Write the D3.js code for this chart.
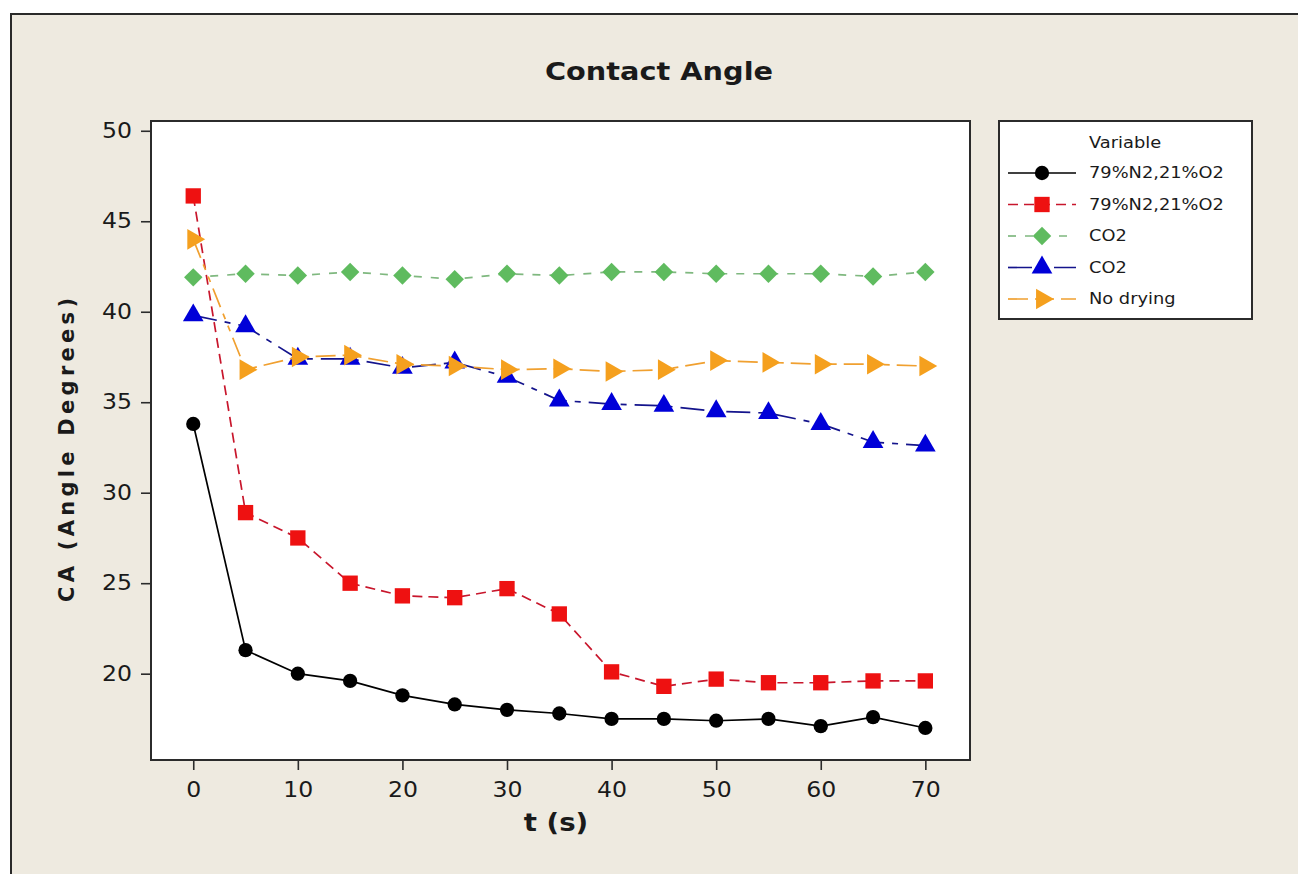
<!DOCTYPE html>
<html>
<head>
<meta charset="utf-8">
<script src="https://cdn.jsdelivr.net/npm/d3@7/dist/d3.min.js"></script>
<style>
  html, body { margin: 0; padding: 0; background: #ffffff; }
  svg { display: block; }
  text { font-family: "DejaVu Sans", Verdana, sans-serif; fill: #1a1a1a; }
</style>
</head>
<body>
<svg id="chart" width="1298" height="874"></svg>
<script>
// Contact angle measurements over time
const times = [0, 5, 10, 15, 20, 25, 30, 35, 40, 45, 50, 55, 60, 65, 70];
const airSolid  = [33.8, 21.3, 20.0, 19.6, 18.8, 18.3, 18.0, 17.8, 17.5, 17.5, 17.4, 17.5, 17.1, 17.6, 17.0];
const airDashed = [46.4, 28.9, 27.5, 25.0, 24.3, 24.2, 24.7, 23.3, 20.1, 19.3, 19.7, 19.5, 19.5, 19.6, 19.6];
const co2Green  = [41.9, 42.1, 42.0, 42.2, 42.0, 41.8, 42.1, 42.0, 42.2, 42.2, 42.1, 42.1, 42.1, 41.95, 42.2];
const co2Blue   = [39.8, 39.2, 37.4, 37.4, 36.9, 37.2, 36.4, 35.1, 34.9, 34.8, 34.5, 34.4, 33.8, 32.8, 32.6];
const noDrying  = [44.0, 36.8, 37.5, 37.6, 37.1, 37.0, 36.8, 36.85, 36.7, 36.8, 37.3, 37.2, 37.1, 37.1, 37.0];

const seriesLabels = ["79%N2,21%O2", "79%N2,21%O2", "CO2", "CO2", "No drying"];
const xTicks = [0, 10, 20, 30, 40, 50, 60, 70];
const yTicks = [20, 25, 30, 35, 40, 45, 50];

const titleText = "Contact Angle";
const xTitle = "t (s)";
const yTitle = "CA (Angle Degrees)";
const legendTitle = "Variable";

const seriesValues = [airSolid, airDashed, co2Green, co2Blue, noDrying];
const styles = [
  { line: "#000000", fill: "#000000", dash: null,                 symbol: "circle" },
  { line: "#c8162c", fill: "#ee1111", dash: "10,6",               symbol: "square" },
  { line: "#7fb87f", fill: "#5fbb5f", dash: "8,9",                symbol: "diamond" },
  { line: "#14148c", fill: "#0000d8", dash: "24,8,6,8",           symbol: "triangleUp" },
  { line: "#f0a030", fill: "#f5a01e", dash: "20,7,6,7,6,7",       symbol: "triangleRight" }
];

const svg = d3.select("#chart");

// Window frame
svg.append("rect").attr("x", 11).attr("y", 14).attr("width", 1300).attr("height", 880)
  .attr("fill", "#eeeae0").attr("stroke", "#2a2a2a").attr("stroke-width", 2);

// Plot region
const plot = { left: 151, top: 121, right: 970, bottom: 760 };
const x = d3.scaleLinear().domain([-4.04, 74.27]).range([plot.left, plot.right]);
const y = d3.scaleLinear().domain([15.23, 50.54]).range([plot.bottom, plot.top]);

svg.append("rect")
  .attr("x", plot.left).attr("y", plot.top)
  .attr("width", plot.right - plot.left).attr("height", plot.bottom - plot.top)
  .attr("fill", "#ffffff").attr("stroke", "#2b2b2b").attr("stroke-width", 2);

function stretch(sel, origin) {
  sel.style("transform-box", "fill-box")
     .style("transform-origin", origin)
     .style("transform", "scaleX(1.15)");
}

// Axes
const xAxis = svg.append("g").attr("transform", `translate(0,${plot.bottom})`)
  .call(d3.axisBottom(x).tickValues(xTicks).tickSize(10).tickPadding(12).tickSizeOuter(0));
const yAxis = svg.append("g").attr("transform", `translate(${plot.left},0)`)
  .call(d3.axisLeft(y).tickValues(yTicks).tickSize(10).tickPadding(9).tickSizeOuter(0));
[xAxis, yAxis].forEach(a => {
  a.select(".domain").remove();
  a.selectAll(".tick line").attr("stroke", "#2b2b2b").attr("stroke-width", 1.6);
  a.selectAll(".tick text").style("font-size", "20.5px").attr("fill", "#1a1a1a")
    .style("font-family", "'DejaVu Sans', Verdana, sans-serif");
});
stretch(xAxis.selectAll(".tick text"), "center");
stretch(yAxis.selectAll(".tick text"), "right center");

// Titles
svg.append("text").attr("x", 659).attr("y", 80).attr("text-anchor", "middle")
  .style("font-size", "25px").style("font-weight", "bold")
  .attr("textLength", 228).attr("lengthAdjust", "spacingAndGlyphs")
  .text(titleText);

const xt = svg.append("text").attr("x", 556).attr("y", 831).attr("text-anchor", "middle")
  .style("font-size", "24px").style("font-weight", "bold").text(xTitle);
stretch(xt, "center");

svg.append("text").attr("transform", "translate(74,450) rotate(-90)")
  .attr("text-anchor", "middle")
  .style("font-size", "21px").style("font-weight", "bold")
  .attr("textLength", 304).attr("lengthAdjust", "spacing")
  .text(yTitle);

// Marker shapes
function markerPath(kind) {
  switch (kind) {
    case "circle": return d3.symbol(d3.symbolCircle, 160)();
    case "square": return d3.symbol(d3.symbolSquare, 235)();
    case "diamond": return d3.symbol(d3.symbolSquare, 170)();
    default: return d3.symbol(d3.symbolTriangle, 185)();
  }
}
function markerRotate(kind) {
  if (kind === "diamond") return 45;
  if (kind === "triangleRight") return 90;
  return 0;
}

const line = d3.line().x(d => x(d[0])).y(d => y(d[1]));

seriesValues.forEach((vals, i) => {
  const st = styles[i];
  const pts = times.map((t, j) => [t, vals[j]]);
  const g = svg.append("g");
  g.append("path").datum(pts).attr("d", line)
    .attr("fill", "none").attr("stroke", st.line).attr("stroke-width", 1.7)
    .attr("stroke-dasharray", st.dash);
  g.selectAll("path.m").data(pts).join("path").attr("class", "m")
    .attr("d", markerPath(st.symbol))
    .attr("transform", d => `translate(${x(d[0])},${y(d[1])}) rotate(${markerRotate(st.symbol)})`)
    .attr("fill", st.fill);
});

// Legend
const lg = svg.append("g");
lg.append("rect").attr("x", 999).attr("y", 121).attr("width", 253).attr("height", 198)
  .attr("fill", "#ffffff").attr("stroke", "#2b2b2b").attr("stroke-width", 2);
const lt = lg.append("text").attr("x", 1089).attr("y", 148)
  .style("font-size", "15.5px").text(legendTitle);
stretch(lt, "left center");

seriesLabels.forEach((lab, i) => {
  const st = styles[i];
  const cy = 173 + i * 31.5;
  lg.append("line").attr("x1", 1008).attr("x2", 1076).attr("y1", cy).attr("y2", cy)
    .attr("stroke", st.line).attr("stroke-width", 1.7)
    .attr("stroke-dasharray", st.dash);
  lg.append("path").attr("d", markerPath(st.symbol))
    .attr("transform", `translate(1042,${cy}) rotate(${markerRotate(st.symbol)})`)
    .attr("fill", st.fill);
  const t = lg.append("text").attr("x", 1089).attr("y", cy + 5.5)
    .style("font-size", "15.5px").text(lab);
  stretch(t, "left center");
});
</script>
</body>
</html>
